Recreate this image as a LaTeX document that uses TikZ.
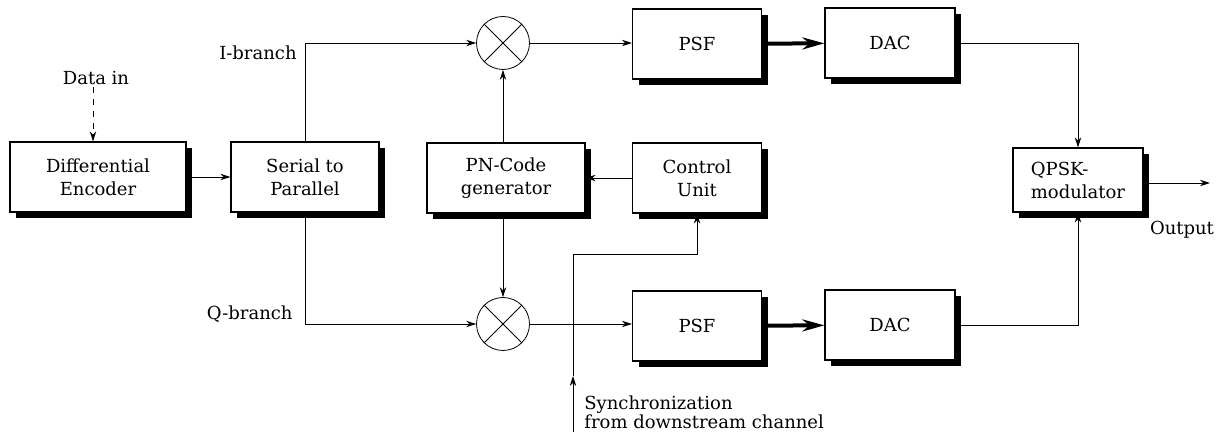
\documentclass[tikz,border=0pt]{standalone}
\usepackage{fontspec}
\setmainfont{DejaVu Serif}
\usetikzlibrary{arrows.meta,shadows}

\begin{document}
\begin{tikzpicture}[x=0.5pt,y=-0.5pt,
        >={Stealth[length=5pt,width=3.2pt]},
        blk/.style={draw,fill=white,line width=0.6pt,minimum height=35pt,
            align=center,inner sep=2pt,font=\fontsize{9}{11.5}\selectfont,
            drop shadow={shadow xshift=3pt,shadow yshift=-3pt,opacity=1,
                fill=black}},
        mix/.style={circle,draw,minimum size=26.5pt,inner sep=0pt},
        lbl/.style={inner sep=1pt,font=\fontsize{9}{9.5}\selectfont},
        fat/.style={line width=2pt,-{Stealth[length=11pt,width=6pt]}}]
\useasboundingbox (0,0) rectangle (1221,432);

% blocks
\node[blk,minimum width=88pt] (enc) at (98,177) {Differential\\Encoder};
\node[blk,minimum width=74pt] (s2p) at (305,177) {Serial to\\Parallel};
\node[blk,minimum width=79pt] (pn) at (506,178) {PN-Code\\generator};
\node[blk,minimum width=64.5pt] (ctrl) at (697,178) {Control\\Unit};
\node[blk,minimum width=64.5pt] (psfI) at (697,44) {PSF};
\node[blk,minimum width=65pt] (dacI) at (890,43) {DAC};
\node[blk,minimum width=64.5pt] (psfQ) at (697,326) {PSF};
\node[blk,minimum width=65pt] (dacQ) at (890,325) {DAC};
\node[blk,minimum width=65pt,minimum height=32pt,align=left] (qpsk)
    at (1078,180) {QPSK-\\modulator};

% mixers
\node[mix] (mixI) at (503,43) {};
\node[mix] (mixQ) at (503,324) {};
\draw (mixI.north west) -- (mixI.south east) (mixI.north east) -- (mixI.south west);
\draw (mixQ.north west) -- (mixQ.south east) (mixQ.north east) -- (mixQ.south west);

% input side
\node[lbl] (din) at (96,78) {Data in};
\draw[->,dashed] (din.south -| 93,0) -- (enc.north -| 93,0);
\draw[->] (enc) -- (s2p);

\coordinate (iCorner) at (305,43);
\coordinate (qCorner) at (305,324);
\draw[->] (s2p.north) -- (iCorner) -- (mixI);
\draw[->] (s2p.south) -- (qCorner) -- (mixQ);
\node[lbl,anchor=east] (ilbl) at (299,53) {I-branch};
\node[lbl,anchor=south east] (qlbl) at (295,325) {Q-branch};

% spreading code
\draw[->] (ctrl) -- (pn);
\draw[->] (pn.north -| mixI) -- (mixI);
\draw[->] (pn.south -| mixQ) -- (mixQ);

% I and Q paths
\draw[->] (mixI) -- (psfI.west |- mixI);
\draw[fat] (psfI) -- (dacI);
\draw[->] (dacI) -| (qpsk);
\draw[->] (mixQ) -- (psfQ.west |- mixQ);
\draw[fat] (psfQ) -- (dacQ);
\draw[->] (dacQ) -| (qpsk);

% output
\coordinate (out) at (1210,183);
\draw[->] (qpsk.east |- out) -- (out);
\node[lbl] (olbl) at (1182,230) {Output};

% synchronization
\coordinate (syncIn) at (573,432);
\coordinate (syncTip) at (573,376);
\draw[->] (syncIn) -- (syncTip);
\draw[->] (syncTip) -- (573,254) -| (ctrl.south);
\node[lbl,anchor=north west,align=left] (slbl) at (582,393)
    {Synchronization\\from downstream channel};

\end{tikzpicture}
\end{document}
